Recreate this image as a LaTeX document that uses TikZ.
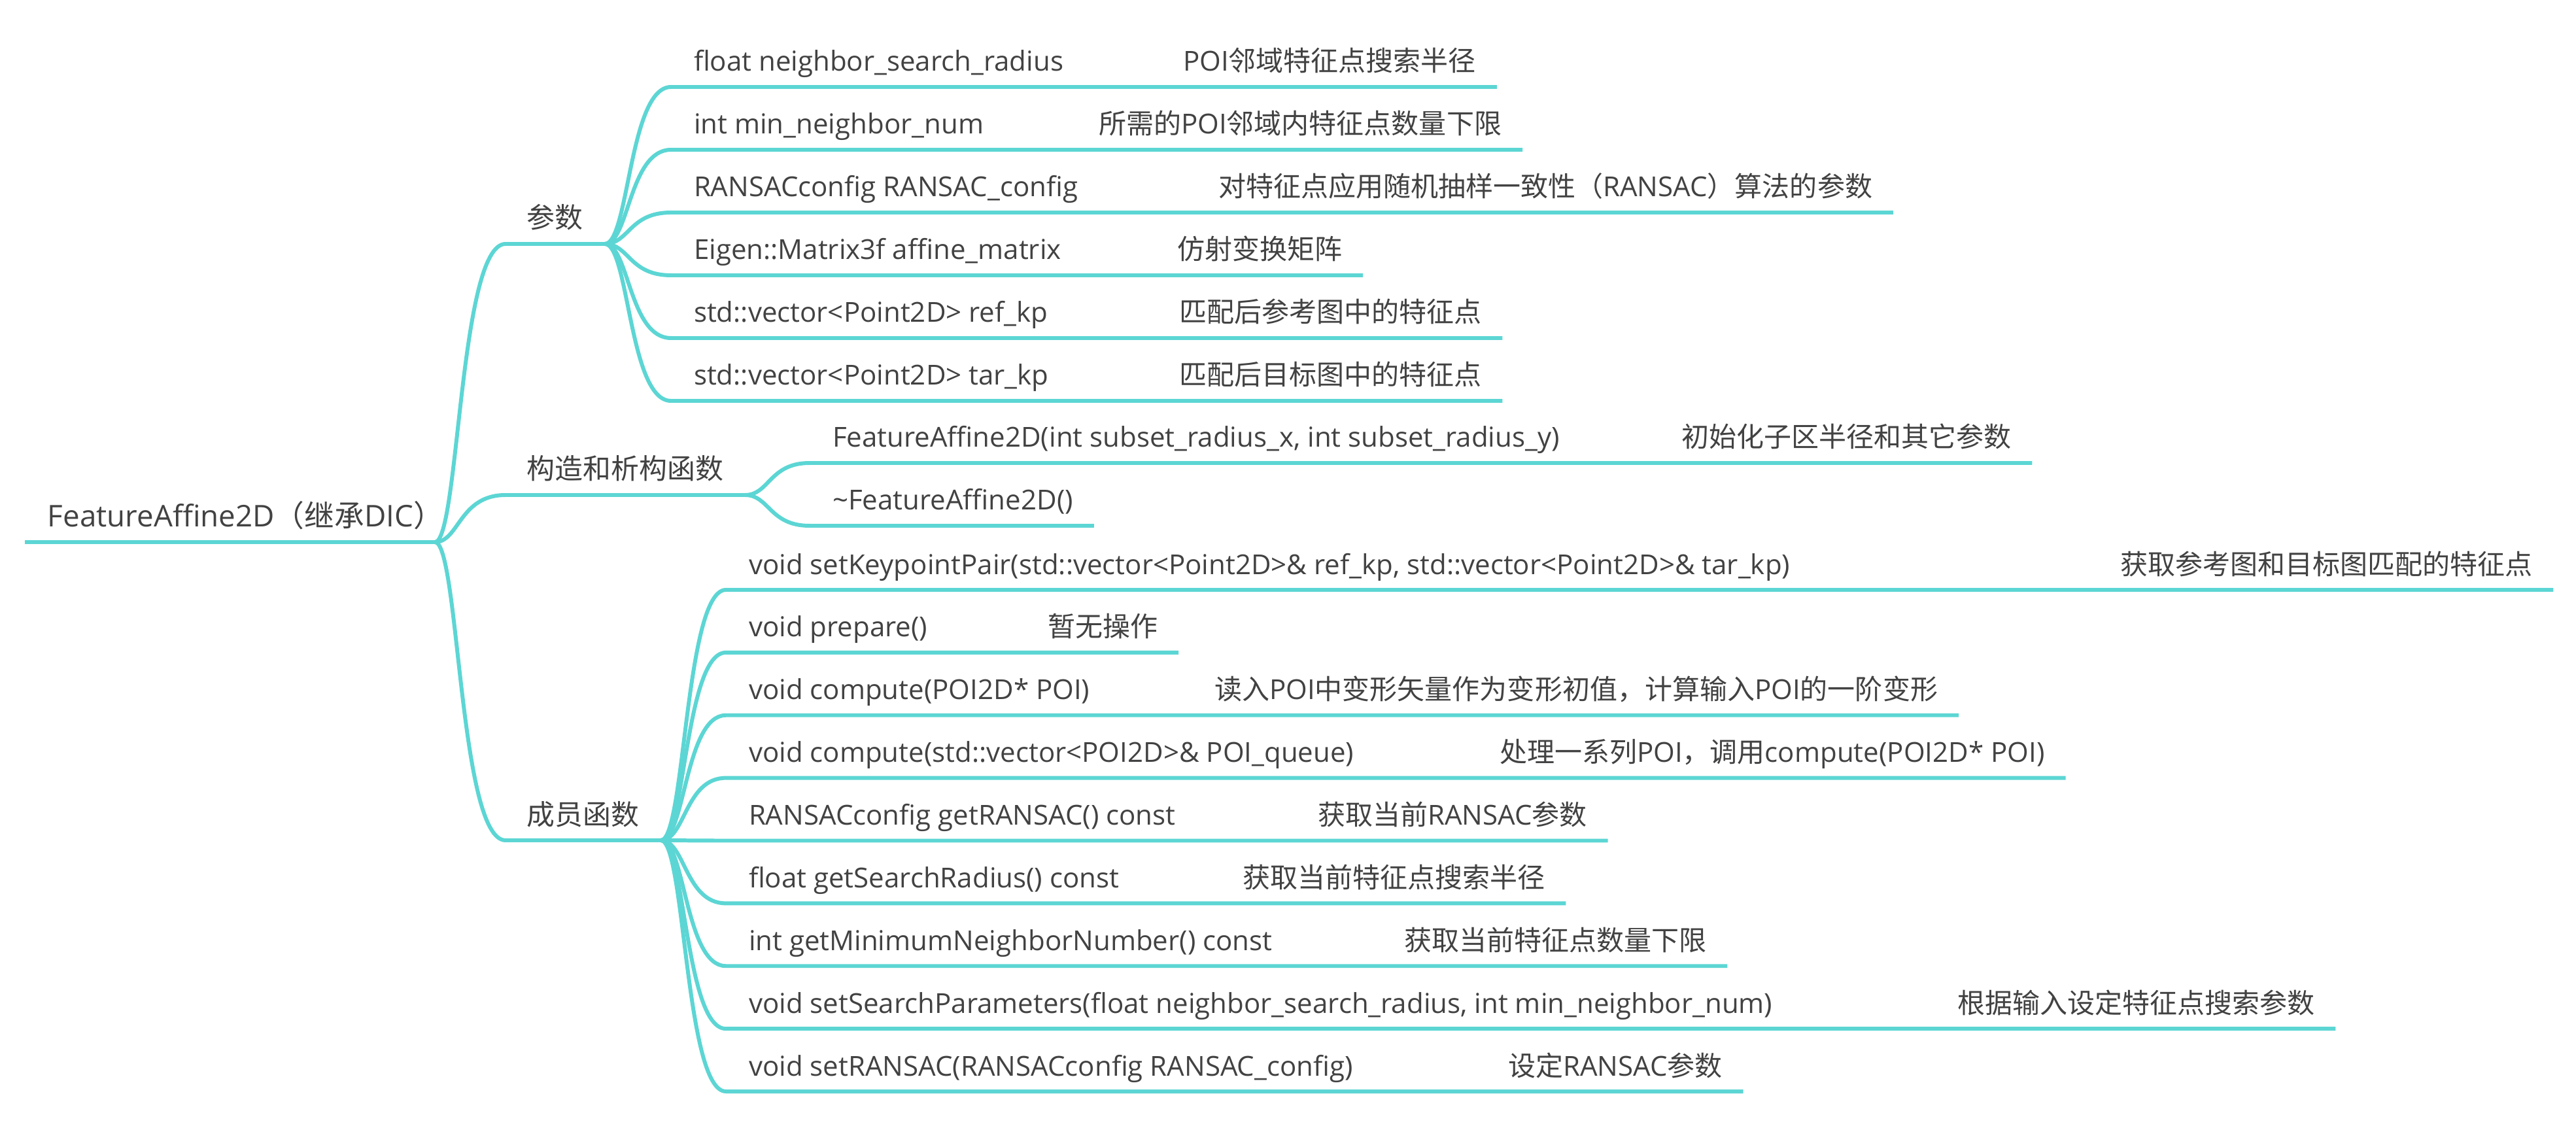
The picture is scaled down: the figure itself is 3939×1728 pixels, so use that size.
\documentclass[tikz,border=0pt]{standalone}
\usepackage{fontspec}
\setmainfont{Open Sans}
\newfontfamily\cjkfont{Noto Sans CJK SC}
\newcommand{\cn}[1]{{\cjkfont #1}}
\usetikzlibrary{positioning, calc}
\definecolor{cteal}{HTML}{5CD6D4}
\definecolor{cink}{HTML}{424242}
\tikzset{
  every picture/.style={x=0.01cm, y=-0.01cm, line width=1.7pt},
  branch/.style={draw=cteal},
  twig/.style={to path={.. controls ($(\tikztostart)+(37,0)$) and ($(\tikztostart|-\tikztotarget)+(37,0)$) .. (\tikztotarget)}},
  txt/.style={anchor=base west, inner sep=0pt, text=cink},
  rootlabel/.style={txt, font=\fontsize{13pt}{15pt}\selectfont},
  toplabel/.style={txt, font=\fontsize{12.2pt}{15pt}\selectfont},
  leaf/.style={txt, font=\fontsize{11.95pt}{14pt}\selectfont},
}

\begin{document}
\begin{tikzpicture}
  \fill[white] (0,0) rectangle (3939,1728);
  \useasboundingbox (0,0) rectangle (3939,1728);
  % root
  \node[rootlabel] (root) at (70,805) {FeatureAffine2D\cn{（继承}DIC\cn{）}};
  \coordinate (r0) at (38,829);
  \coordinate (rj) at (665,829);
  \draw[branch] (r0) -- (rj);
  % first level
  \foreach \n/\y/\t in {par/373/参数, con/757/构造和析构函数, mem/1285/成员函数} {
    \coordinate (s\n) at (773,\y);
    \node[toplabel] (\n) at (803,\y-24) {\cn{\t}};
    \coordinate (j\n) at ($(\n.base east)+(30,24)$);
    \draw[branch] (rj) to[twig] (s\n) -- (j\n);
  }
  % parameters
  \foreach \k/\v/\vx [count=\i] in {
    {float neighbor\_search\_radius}/{POI\cn{邻域特征点搜索半径}}/1806,
    {int min\_neighbor\_num}/{\cn{所需的}POI\cn{邻域内特征点数量下限}}/1677,
    {RANSACconfig RANSAC\_config}/{\cn{对特征点应用随机抽样一致性（}RANSAC\cn{）算法的参数}}/1860,
    {Eigen::Matrix3f affine\_matrix}/{\cn{仿射变换矩阵}}/1797,
    {std::vector<Point2D> ref\_kp}/{\cn{匹配后参考图中的特征点}}/1800,
    {std::vector<Point2D> tar\_kp}/{\cn{匹配后目标图中的特征点}}/1800} {
    \pgfmathsetmacro{\ly}{133+96*(\i-1)}
    \coordinate (ps\i) at (1026,\ly);
    \node[leaf] (pk\i) at (1058,\ly-24) {\k};
    \node[leaf] (pv\i) at (\vx,\ly-24) {\v};
    \coordinate (pe\i) at ($(pv\i.base east)+(29,24)$);
    \draw[branch] (jpar) to[twig] (ps\i) -- (pe\i);
  }
  % constructor and destructor
  \coordinate (cs1) at (1238,708);
  \node[leaf] (ck1) at (1270,684) {FeatureAffine2D(int subset\_radius\_x, int subset\_radius\_y)};
  \node[leaf] (cv1) at (2568,684) {\cn{初始化子区半径和其它参数}};
  \coordinate (ce1) at ($(cv1.base east)+(29,24)$);
  \draw[branch] (jcon) to[twig] (cs1) -- (ce1);
  \coordinate (cs2) at (1238,804);
  \node[leaf] (ck2) at (1270,780) {\textasciitilde FeatureAffine2D()};
  \coordinate (ce2) at ($(ck2.base east)+(29,24)$);
  \draw[branch] (jcon) to[twig] (cs2) -- (ce2);
  % member functions
  \foreach \k/\v/\vx [count=\i] in {
    {void setKeypointPair(std::vector<Point2D>\& ref\_kp, std::vector<Point2D>\& tar\_kp)}/{\cn{获取参考图和目标图匹配的特征点}}/3239,
    {void prepare()}/{\cn{暂无操作}}/1599,
    {void compute(POI2D* POI)}/{\cn{读入}POI\cn{中变形矢量作为变形初值，计算输入}POI\cn{的一阶变形}}/1854,
    {void compute(std::vector<POI2D>\& POI\_queue)}/{\cn{处理一系列}POI\cn{，调用}compute(POI2D* POI)}/2290,
    {RANSACconfig getRANSAC() const}/{\cn{获取当前}RANSAC\cn{参数}}/2012,
    {float getSearchRadius() const}/{\cn{获取当前特征点搜索半径}}/1897,
    {int getMinimumNeighborNumber() const}/{\cn{获取当前特征点数量下限}}/2144,
    {void setSearchParameters(float neighbor\_search\_radius, int min\_neighbor\_num)}/{\cn{根据输入设定特征点搜索参数}}/2990,
    {void setRANSAC(RANSACconfig RANSAC\_config)}/{\cn{设定}RANSAC\cn{参数}}/2303} {
    \pgfmathsetmacro{\ly}{902+95.875*(\i-1)}
    \coordinate (ms\i) at (1110,\ly);
    \node[leaf] (mk\i) at (1142,\ly-24) {\k};
    \node[leaf] (mv\i) at (\vx,\ly-24) {\v};
    \coordinate (me\i) at ($(mv\i.base east)+(29,24)$);
    \draw[branch] (jmem) to[twig] (ms\i) -- (me\i);
  }
\end{tikzpicture}
\end{document}
